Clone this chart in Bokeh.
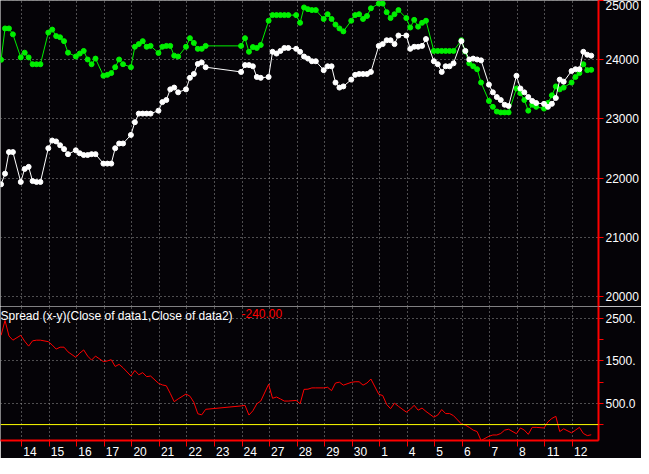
from bokeh.plotting import figure
from bokeh.layouts import column
from bokeh.models import LinearAxis, FixedTicker, Range1d, Span, Label, NumeralTickFormatter
from bokeh.embed import file_html
from bokeh.resources import INLINE

# ---------------- data ----------------
# session (day) labels shown on the time axis; a partial session ("13") precedes them
day_labels = ["14", "15", "16", "17", "20", "21", "22", "23", "24", "27", "28",
              "29", "30", "1", "4", "5", "6", "7", "8", "11", "12"]

# 6 bars per session, None = no bar (off-chart or holiday)
data1_close = [  # green
    None, None, 24000, 24530, 24530, 24430,      # 13
    24040, 24120, 24040, 23925, 23925, 23925,    # 14
    24460, 24510, 24400, 24380, 24315, 24120,    # 15
    24055, 24105, 24150, 24005, 23925, 24020,    # 16
    23730, 23745, 23775, 23875, 24005, 23925,    # 17
    23875, 24220, 24265, 24315, 24220, 24235,    # 20
    24115, 24220, 24235, 24235, 24070, 24055,    # 21
    24220, 24365, 24285, 24185, 24185, 24235,    # 22
    None, None, None, None, None, None,          # 23
    24235, 24365, 24135, 24215, 24200, 24250,    # 24
    24660, 24755, 24755, 24755, 24755, 24755,    # 27
    24755, 24625, 24885, 24855, 24840, 24840,    # 28
    24690, 24770, 24690, 24595, 24530, 24480,    # 29
    24660, 24755, 24770, 24690, 24740, 24870,    # 30
    24950, 24950, 24805, 24705, 24770, 24840,    # 1
    24705, 24545, 24675, 24560, 24625, 24660,    # 4
    24150, 24150, 24150, 24150, 24150, 24150,    # 5
    24330, 24140, 23940, 23890, 23840, 23615,    # 6
    23305, 23205, 23125, 23110, 23110, 23110,    # 7
    23515, 23435, 23320, 23140, 23240, 23205,    # 8
    23175, 23270, 23400, 23550, 23500, 23530,    # 11
    23615, 23710, 23775, 23925, 23825, 23830,    # 12
]
data2_close = [  # white
    None, None, 21895, 22075, 22440, 22440,      # 13
    21935, 22155, 22190, 21950, 21935, 21935,    # 14
    22505, 22635, 22620, 22555, 22490, 22405,    # 15
    22470, 22420, 22390, 22390, 22405, 22405,    # 16
    22245, 22245, 22245, 22505, 22585, 22585,    # 17
    22730, 22945, 23090, 23090, 23090, 23090,    # 20
    23140, 23285, 23320, 23500, 23530, 23450,    # 21
    23500, 23695, 23760, 23930, 23955, 23875,    # 22
    None, None, None, None, None, None,          # 23
    23795, 23910, 23910, 23890, 23710, 23695,    # 24
    23710, 24135, 24105, 24150, 24200, 24200,    # 27
    24185, 24135, 24055, 24020, 23975, 23975,    # 28
    23825, 23890, 23890, 23615, 23530, 23550,    # 29
    23665, 23745, 23760, 23760, 23760, 23795,    # 30
    24235, 24265, 24330, 24330, 24265, 24410,    # 1
    24410, 24185, 24220, 24220, 24235, 24350,    # 4
    23975, 23925, 23795, 23890, 23890, 23940,    # 5
    24315, 24150, 24005, 24020, 24005, 23990,    # 6
    23580, 23450, 23370, 23320, 23240, 23220,    # 7
    23730, 23515, 23450, 23370, 23305, 23270,    # 8
    23255, 23205, 23255, 23355, 23665, 23630,    # 11
    23810, 23840, 23840, 24135, 24085, 24070,    # 12
]

price_ticks = [20000, 21000, 22000, 23000, 24000, 25000]
spread_ticks = [0, 500, 1000, 1500, 2000, 2500, 3000]
spread_tick_labels = {0: "", 500: "500.0", 1000: "", 1500: "1500.", 2000: "", 2500: "2500.", 3000: ""}
spread_grid = [500, 1500, 2500]
title_text = "Spread (x-y)(Close of data1,Close of data2)"

# ---------------- layout constants ----------------
BARS = 6          # bars per session
SLOTS = 7         # slots per session (one empty slot between sessions)
FIRST = -2        # slot of the first bar of the partial session
W = 641
AXIS_W = 42
FRAME_W = W - AXIS_W
TOP_H = 306
BOT_H = 152
BG = "#050307"
GREEN = "#00F000"
WHITE = "#FFFFFF"
RED = "#FF0000"
GRIDC = "#9A9A9A"
FONT = "Liberation Sans"

xs, g, w = [], [], []
for i, (a, b) in enumerate(zip(data1_close, data2_close)):
    if a is None or b is None:
        continue
    xs.append((i // BARS) * SLOTS + FIRST + i % BARS)
    g.append(a)
    w.append(b)
spread = [a - b for a, b in zip(g, w)]

tick_x = [(j + 1) * SLOTS + FIRST + 0.25 for j in range(len(day_labels))]
px_per_slot = FRAME_W / 152.0
label_x = [round(t + (1.5 + 3.34 * len(l)) / px_per_slot, 2) for t, l in zip(tick_x, day_labels)]

xr = Range1d(-0.15, 151.85)


def style_right_axis(ax):
    ax.axis_line_color = RED
    ax.axis_line_width = 2
    ax.major_tick_line_color = RED
    ax.major_tick_out = 5
    ax.major_tick_in = 0
    ax.minor_tick_line_color = None
    ax.major_label_text_color = WHITE
    ax.major_label_text_font = FONT
    ax.major_label_text_font_size = "12px"
    ax.major_label_standoff = 2


common = dict(width=W, x_range=xr, x_axis_location=None, y_axis_location="right",
              toolbar_location=None, output_backend="svg",
              background_fill_color=BG, border_fill_color=BG, outline_line_color=None,
              min_border_left=0, min_border_right=AXIS_W, min_border_top=0, min_border_bottom=0)

# ---------------- price panel ----------------
top = figure(height=TOP_H, y_range=Range1d(19830, 25002), **common)
top.yaxis.ticker = FixedTicker(ticks=price_ticks)
top.yaxis.formatter = NumeralTickFormatter(format="0")
style_right_axis(top.yaxis[0])
top.xgrid.ticker = FixedTicker(ticks=tick_x)
top.ygrid.ticker = FixedTicker(ticks=price_ticks)
for gr in (top.xgrid, top.ygrid):
    gr.grid_line_color = GRIDC
    gr.grid_line_dash = "1 3"
    gr.grid_line_width = 1

top.line(xs, g, line_color=GREEN, line_width=1)
top.scatter(xs, g, size=5, fill_color=GREEN, line_color=GREEN)
top.line(xs, w, line_color=WHITE, line_width=1)
top.scatter(xs, w, size=5, fill_color=WHITE, line_color=WHITE)

# ---------------- spread panel ----------------
bot = figure(height=BOT_H, y_range=Range1d(-375, 2784), **common)
bot.yaxis.ticker = FixedTicker(ticks=spread_ticks)
bot.yaxis.major_label_overrides = spread_tick_labels
style_right_axis(bot.yaxis[0])
bot.xgrid.ticker = FixedTicker(ticks=tick_x)
bot.ygrid.ticker = FixedTicker(ticks=spread_grid)
for gr in (bot.xgrid, bot.ygrid):
    gr.grid_line_color = GRIDC
    gr.grid_line_dash = "1 3"
    gr.grid_line_width = 1

bot.add_layout(Span(location=0, dimension="width", line_color="#FFFF00", line_width=1))
bot.line(xs, spread, line_color=RED, line_width=1)

# time axis: tick marks, then labels placed just right of each tick
tick_axis = LinearAxis(ticker=FixedTicker(ticks=tick_x))
tick_axis.axis_line_color = RED
tick_axis.axis_line_width = 2
tick_axis.major_tick_line_color = RED
tick_axis.major_tick_line_width = 1
tick_axis.major_tick_out = 6
tick_axis.major_tick_in = 0
tick_axis.minor_tick_line_color = None
tick_axis.major_label_text_font_size = "1px"
tick_axis.major_label_text_color = None
tick_axis.major_label_standoff = 0
bot.add_layout(tick_axis, "below")

label_axis = LinearAxis(ticker=FixedTicker(ticks=label_x))
label_axis.major_label_overrides = {x: l for x, l in zip(label_x, day_labels)}
label_axis.axis_line_color = None
label_axis.major_tick_line_color = None
label_axis.major_tick_out = 0
label_axis.major_tick_in = 0
label_axis.minor_tick_line_color = None
label_axis.major_label_text_color = WHITE
label_axis.major_label_text_font = FONT
label_axis.major_label_text_font_size = "12px"
label_axis.major_label_standoff = 0
bot.add_layout(label_axis, "below")

bot.add_layout(Label(x=xr.start, y=2784, text=title_text, text_color=WHITE,
                     text_font=FONT, text_font_size="12px", text_baseline="top",
                     x_offset=0, y_offset=-2))
bot.add_layout(Label(x=xr.start, y=2784, text=f"{spread[-1]:.2f}", text_color=RED,
                     text_font=FONT, text_font_size="12px", text_baseline="top",
                     x_offset=241, y_offset=-2))

p = column(top, bot, spacing=0)
open("out.html", "w").write(file_html(p, INLINE))
